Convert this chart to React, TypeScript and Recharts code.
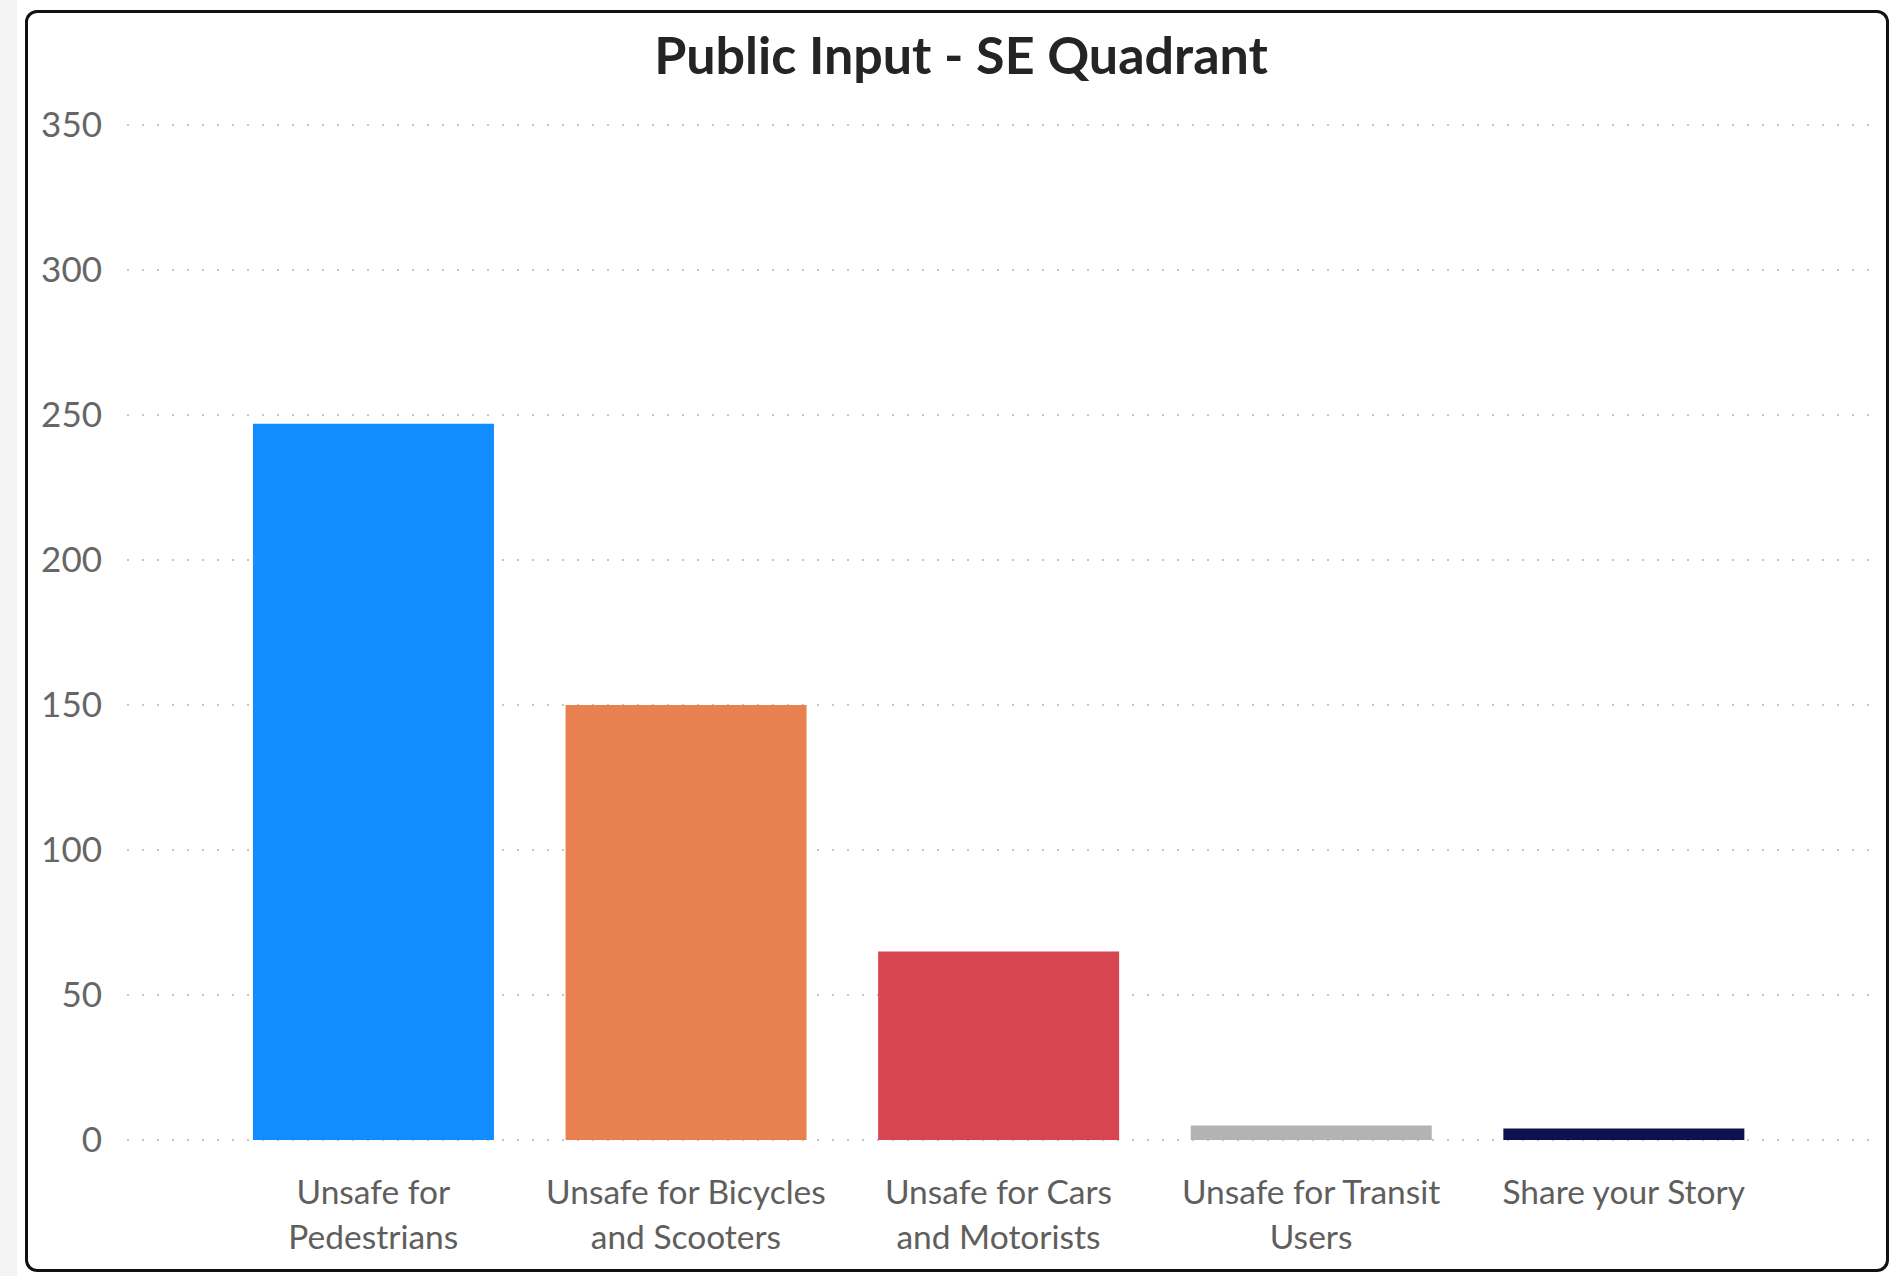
import React from "react"
import { Bar, BarChart, CartesianGrid, Cell, XAxis, YAxis } from "recharts"

const categories = [
  "Unsafe for\nPedestrians",
  "Unsafe for Bicycles\nand Scooters",
  "Unsafe for Cars\nand Motorists",
  "Unsafe for Transit\nUsers",
  "Share your Story",
]
const counts = [247, 150, 65, 5, 4]
const barColors = ["#118DFF", "#E8804F", "#D64550", "#B3B3B3", "#0E1150"]
const yTicks = [0, 50, 100, 150, 200, 250, 300, 350]

const data = categories.map((name, i) => ({ name, count: counts[i] }))

const FONT = "Lato, 'Open Sans', sans-serif"

function CategoryTick(props: any) {
  const { x, y, payload } = props
  const lines = String(payload.value).split("\n")
  return (
    <g transform={`translate(${x},${y})`}>
      {lines.map((line, i) => (
        <text
          key={i}
          x={0}
          y={64 + i * 45}
          textAnchor="middle"
          fill="#605E5C"
          fontSize={33.5}
          fontFamily={FONT}
        >
          {line}
        </text>
      ))}
    </g>
  )
}

export default function App() {
  return (
    <div
      style={{
        position: "absolute",
        left: 0,
        top: 0,
        width: 1890,
        height: 1276,
        background: "#ffffff",
        overflow: "hidden",
      }}
    >
      <div style={{ position: "absolute", left: 0, top: 0, width: 17, height: 1276, background: "#f3f3f3" }} />
      <div
        style={{
          position: "absolute",
          left: 25,
          top: 10,
          width: 1864,
          height: 1262,
          boxSizing: "border-box",
          border: "3px solid #111",
          borderRadius: 12,
          background: "#fff",
        }}
      />
      <div
        style={{
          position: "absolute",
          left: 0,
          top: 24,
          width: 1922,
          textAlign: "center",
          fontFamily: FONT,
          fontWeight: 700,
          fontSize: 52,
          color: "#252423",
          lineHeight: "60px",
        }}
      >
        Public Input - SE Quadrant
      </div>
      <div style={{ position: "absolute", left: 0, top: 0 }}>
        <BarChart
          width={1890}
          height={1276}
          data={data}
          margin={{ top: 125, right: 15, bottom: 106, left: 27 }}
          barCategoryGap="11.5%"
        >
          <CartesianGrid
            vertical={false}
            stroke="#c4c4c4"
            strokeWidth={2}
            strokeDasharray="2 13"
          />
          <XAxis
            dataKey="name"
            height={30}
            axisLine={false}
            tickLine={false}
            tickSize={0}
            tickMargin={0}
            interval={0}
            padding={{ left: 90, right: 95 }}
            tick={<CategoryTick />}
          />
          <YAxis
            width={100}
            domain={[0, 350]}
            ticks={yTicks}
            axisLine={false}
            tickLine={false}
            tickSize={0}
            tickMargin={25}
            tick={{ fill: "#666666", fontSize: 35, fontFamily: FONT }}
          />
          <Bar dataKey="count" isAnimationActive={false}>
            {data.map((d, i) => (
              <Cell key={d.name} fill={barColors[i]} />
            ))}
          </Bar>
        </BarChart>
      </div>
    </div>
  )
}
